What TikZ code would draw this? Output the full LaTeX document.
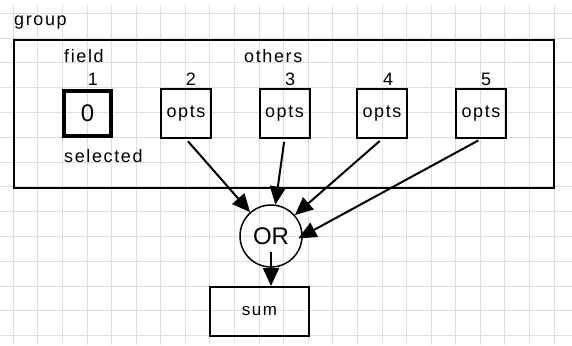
\documentclass[tikz,border=0pt]{standalone}
\usepackage{fontspec}
\setmainfont{Liberation Sans}
\newfontfamily\spaced[LetterSpace=9]{Liberation Sans}
\usetikzlibrary{arrows.meta}
\begin{document}
\begin{tikzpicture}[x=1pt,y=-1pt,
  gridline/.style={draw=black!13,line width=1pt},
  lbl/.style={inner sep=0pt,anchor=base,font=\spaced\fontsize{18}{20}\selectfont},
  optbox/.style={draw,line width=2pt,minimum width=50pt,minimum height=49pt,inner sep=0pt,font=\spaced\fontsize{18}{20}\selectfont},
  conn/.style={line width=2pt,-{Triangle[length=18pt,width=16pt]},shorten <=3pt}]
\useasboundingbox (0,0) rectangle (572,345);
\fill[white] (0,0) rectangle (572,345);
% grid
\foreach \k in {0,...,22} \draw[gridline] ({13.3+\k*24.58},5) -- ({13.3+\k*24.58},345);
\foreach \k in {0,...,13} \draw[gridline] (0,{13.3+\k*24.8}) -- (572,{13.3+\k*24.8});
% group frame
\node[draw,line width=2pt,minimum width=540pt,minimum height=148pt,inner sep=0pt] (grp) at (283.7,114) {};
\node[lbl,anchor=base west] (tgroup) at (14,26) {group};
\node[lbl,anchor=base west] (tfield) at (64,63) {field};
\node[lbl,anchor=base west] (tothers) at (244,63) {others};
\node[lbl,anchor=base west] (tsel) at (64,162) {selected};
\node[lbl] (n1) at (93,85) {1};
\node[lbl] (n2) at (191,85) {2};
\node[lbl] (n3) at (290,85) {3};
\node[lbl] (n4) at (388,85) {4};
\node[lbl] (n5) at (486,85) {5};
% boxes
\node[draw,line width=4.5pt,minimum width=47pt,minimum height=45pt,inner sep=0pt,font=\fontsize{24}{26}\selectfont] (b1) at (87.5,113.5) {0};
\node[optbox] (b2) at (186,113.5) {opts};
\node[optbox] (b3) at (284.5,113.5) {opts};
\node[optbox] (b4) at (382,113.5) {opts};
\node[optbox] (b5) at (481,113.5) {opts};
% OR and sum
\node[draw,circle,line width=1.5pt,minimum size=62pt,inner sep=0pt,font=\fontsize{24}{26}\selectfont] (or) at (271,236) {OR};
\node[draw,line width=2pt,minimum width=99pt,minimum height=49pt,inner sep=0pt,font=\spaced\fontsize{17}{19}\selectfont] (sum) at (259.5,311.5) {sum};
% connectors
\draw[conn] (b2.south) -- (or);
\draw[conn] (b3.south) -- (or);
\draw[conn] (b4.south) -- (or);
\draw[conn,shorten >=-5pt] (b5.south) -- (or.east);
\draw[conn,shorten <=16pt] (or.center) -- (or.center |- sum.north);
\end{tikzpicture}
\end{document}
